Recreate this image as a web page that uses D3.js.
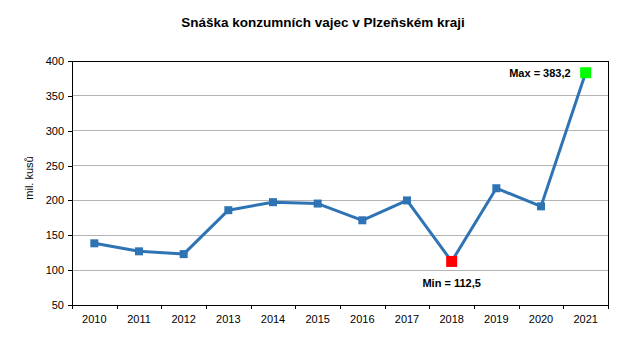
<!DOCTYPE html>
<html><head><meta charset="utf-8">
<script src="https://cdn.jsdelivr.net/npm/d3@7"></script>
<style>body{margin:0;background:#fff}svg{display:block;font-family:"Liberation Sans",Arial,sans-serif}</style>
</head><body><svg id="c" width="639" height="361"></svg>
<script>
const years = ["2010","2011","2012","2013","2014","2015","2016","2017","2018","2019","2020","2021"];
const values = [138.5,127,123,186,197.5,195.5,171.5,200,112.5,217.5,191.5,383.2];
const yTicks = [50,100,150,200,250,300,350,400];
const title = "Snáška konzumních vajec v Plzeňském kraji";
const yLabel = "mil. kusů";

const svg = d3.select("#c");
const L=72,T=61,R=608,B=305;
const x = d3.scaleBand().domain(years).range([L,R]);
const y = d3.scaleLinear().domain([50,400]).range([B,T]);

svg.append("text").attr("x",323).attr("y",27).attr("text-anchor","middle")
  .attr("font-weight","bold").attr("font-size",13.5).text(title);

// grid
svg.append("g").selectAll("line").data(yTicks.filter(d=>d>50&&d<400)).join("line")
  .attr("x1",L).attr("x2",R).attr("y1",d=>y(d)).attr("y2",d=>y(d))
  .attr("stroke","#b4b4b4").attr("stroke-width",1).attr("shape-rendering","crispEdges");

svg.append("rect").attr("x",L).attr("y",T).attr("width",R-L).attr("height",B-T)
  .attr("fill","none").attr("stroke","#000").attr("stroke-width",1).attr("shape-rendering","crispEdges");

const ya = svg.append("g").attr("transform",`translate(${L},0)`)
  .call(d3.axisLeft(y).tickValues(yTicks).tickSize(4).tickPadding(4).tickFormat(d3.format("d")));
ya.select(".domain").remove();
ya.selectAll("line").attr("shape-rendering","crispEdges");
ya.selectAll("text").attr("font-size",11).attr("font-family","Liberation Sans,Arial,sans-serif").attr("fill","#000");

const xa = svg.append("g").attr("transform",`translate(0,${B})`)
  .call(d3.axisBottom(x).tickSize(0).tickPadding(10));
xa.select(".domain").remove();
xa.selectAll("text").attr("font-size",11).attr("font-family","Liberation Sans,Arial,sans-serif").attr("fill","#000");
// tick marks between categories
svg.append("g").selectAll("line").data(years.concat(["end"])).join("line")
  .attr("x1",(d,i)=>Math.round(L+i*x.step())).attr("x2",(d,i)=>Math.round(L+i*x.step()))
  .attr("y1",B).attr("y2",B+4).attr("stroke","#000").attr("shape-rendering","crispEdges");

svg.append("text").attr("transform","translate(33,178) rotate(-90)").attr("text-anchor","middle")
  .attr("font-size",11).text(yLabel);

const cx = d=>x(d)+x.bandwidth()/2;
const line = d3.line().x((d,i)=>cx(years[i])).y(d=>y(d));
svg.append("path").datum(values).attr("d",line).attr("fill","none")
  .attr("stroke","#2e74b5").attr("stroke-width",3).attr("stroke-linejoin","round");

const minI = values.indexOf(d3.min(values)), maxI = values.indexOf(d3.max(values));
svg.append("g").selectAll("rect").data(values.map((v,i)=>({v,i})).filter(d=>d.i!==minI&&d.i!==maxI)).join("rect")
  .attr("x",d=>cx(years[d.i])-4).attr("y",d=>y(d.v)-4).attr("width",8).attr("height",8).attr("fill","#2e74b5");
svg.append("rect").attr("x",cx(years[minI])-5.5).attr("y",y(values[minI])-5.5).attr("width",11).attr("height",11).attr("fill","#ff0000");
svg.append("rect").attr("x",cx(years[maxI])-5.5).attr("y",y(values[maxI])-5.5).attr("width",11).attr("height",11).attr("fill","#00ff00");

const fmt = v=>String(v).replace(".",",");
svg.append("text").attr("x",cx(years[minI])).attr("y",y(values[minI])+26).attr("text-anchor","middle")
  .attr("font-weight","bold").attr("font-size",11).text("Min = "+fmt(values[minI]));
svg.append("text").attr("x",cx(years[maxI])-15).attr("y",y(values[maxI])+4).attr("text-anchor","end")
  .attr("font-weight","bold").attr("font-size",11).text("Max = "+fmt(values[maxI]));
</script></body></html>
